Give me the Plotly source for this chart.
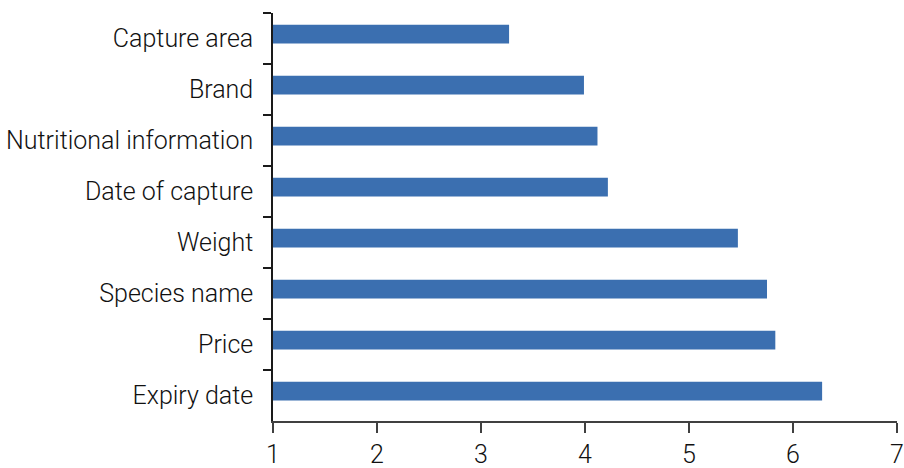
import plotly.graph_objects as go

categories = ["Capture area", "Brand", "Nutritional information", "Date of capture",
              "Weight", "Species name", "Price", "Expiry date"]
values = [3.27, 3.99, 4.12, 4.22, 5.47, 5.75, 5.83, 6.28]
x_ticks = [1, 2, 3, 4, 5, 6, 7]

fig = go.Figure(go.Bar(
    y=categories, x=[v - 1 for v in values], base=1, orientation="h",
    marker=dict(color="#3B6FB0", line=dict(width=0)),
    width=0.37, offset=-0.27,
))

fig.update_layout(
    width=904, height=468,
    margin=dict(l=273, r=7, t=13, b=47, autoexpand=False),
    plot_bgcolor="white", paper_bgcolor="white",
    font=dict(family="Roboto Light", size=25, color="#111111"),
    showlegend=False,
)
fig.update_xaxes(
    range=[1, 7], tickvals=x_ticks, ticktext=[str(t) for t in x_ticks],
    showgrid=False, zeroline=False, automargin=False,
    showline=True, linecolor="#404040", linewidth=2,
    ticks="outside", ticklen=10, tickwidth=2, tickcolor="#404040",
)
fig.update_yaxes(
    autorange="reversed", type="category", tickson="boundaries",
    showgrid=False, zeroline=False, automargin=False,
    showline=True, linecolor="#1a1a1a", linewidth=1.5,
    ticks="outside", ticklen=8, tickwidth=1.5, tickcolor="#1a1a1a",
    ticklabelstandoff=13,
)

fig.write_html("out.html", post_script="document.body.style.margin='0';",
               config={"displayModeBar": False})
